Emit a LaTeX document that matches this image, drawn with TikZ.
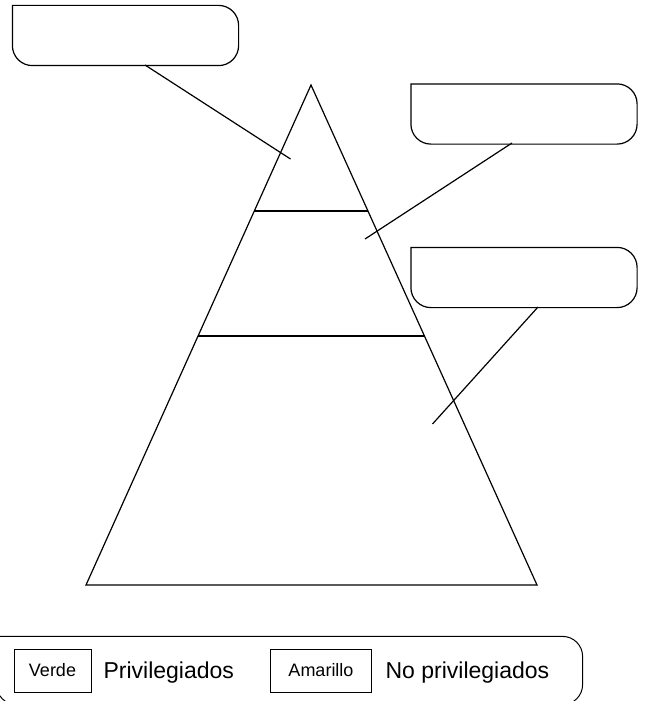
\documentclass[tikz,border=0pt]{standalone}
\usepackage{fontspec}
\setmainfont{Liberation Sans}
\usetikzlibrary{calc}
\begin{document}
\begin{tikzpicture}[x=1pt,y=-1pt,
  line width=1.2pt,
  slot/.style={rectangle,inner sep=0pt,minimum width=225pt,minimum height=59pt},
  outline/.style={rounded corners=20pt,line width=1.2pt},
  conn/.style={line width=1.2pt},
  keybox/.style={draw,rectangle,inner sep=0pt,minimum height=43pt,line width=1pt,font=\fontsize{18}{20}\selectfont},
  keytext/.style={inner sep=0pt,anchor=base west,font=\fontsize{23}{26}\selectfont}]
\useasboundingbox (0,0) rectangle (645,701);
% callout boxes
\node[slot] (b1) at (125.5,35.5) {};
\node[slot] (b2) at (524,114) {};
\node[slot] (b3) at (524,277.5) {};
\foreach \b in {b1,b2,b3}{
  \draw[outline] (\b.north west) -- (\b.north east) -- (\b.south east) -- (\b.south west) [sharp corners] -- cycle;
}
% pyramid
\coordinate (apex) at (311,85);
\coordinate (bl) at (86,585);
\coordinate (br) at (537,585);
\draw[line join=miter] (apex) -- (bl) -- (br) -- cycle;
\draw ($(apex)!0.252!(bl)$) -- ($(apex)!0.252!(br)$);
\draw ($(apex)!0.502!(bl)$) -- ($(apex)!0.502!(br)$);
% connectors
\coordinate (s1) at (145,65);   \coordinate (e1) at (290.5,159);
\coordinate (s2) at (512,143);  \coordinate (e2) at (365,239);
\coordinate (s3) at (538,307);  \coordinate (e3) at (432.5,424);
\draw[conn] (s1) -- (e1);
\draw[conn] (s2) -- (e2);
\draw[conn] (s3) -- (e3);
% legend
\node[rectangle,inner sep=0pt,minimum width=585pt,minimum height=67pt] (leg) at (289.5,670.5) {};
\draw[outline,line width=1pt] (leg.north west) -- (leg.north east) -- (leg.south east) -- (leg.south west) [sharp corners] -- cycle;
\node[keybox,minimum width=77pt] (verde) at (52.5,670.5) {Verde};
\node[keytext] (priv) at (103,678.5) {Privilegiados};
\node[keybox,minimum width=101pt] (amar) at (321,670.5) {Amarillo};
\node[keytext] (nopriv) at (385,678.5) {No privilegiados};
\end{tikzpicture}
\end{document}
